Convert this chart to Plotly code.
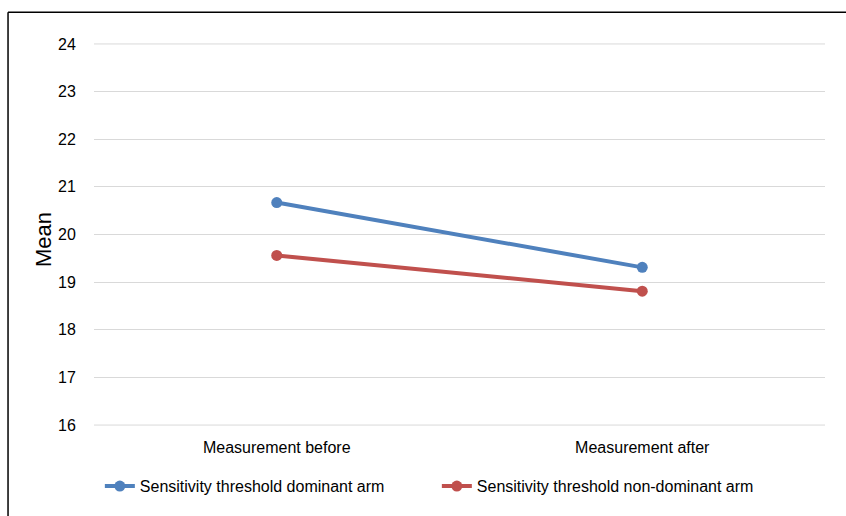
import plotly.graph_objects as go

categories = ["Measurement before", "Measurement after"]
dominant = [20.67, 19.31]
non_dominant = [19.56, 18.81]
series_names = ["Sensitivity threshold dominant arm", "Sensitivity threshold non-dominant arm"]
y_ticks = [16, 17, 18, 19, 20, 21, 22, 23, 24]
y_title = "Mean"

BLUE = "#4F81BD"
RED = "#C0504D"
GRID = "#D9D9D9"
FONT = "Liberation Sans"

fig = go.Figure()
fig.add_trace(go.Scatter(x=categories, y=dominant, name=series_names[0], mode="lines+markers",
                         line=dict(color=BLUE, width=4), marker=dict(color=BLUE, size=11)))
fig.add_trace(go.Scatter(x=categories, y=non_dominant, name=series_names[1], mode="lines+markers",
                         line=dict(color=RED, width=4), marker=dict(color=RED, size=11)))

fig.update_layout(
    width=846, height=516,
    margin=dict(l=94, r=21, t=43, b=90, autoexpand=False),
    paper_bgcolor="white", plot_bgcolor="white",
    font=dict(family=FONT, size=16, color="#000000"),
    showlegend=True,
    legend=dict(orientation="h", x=0.008, xanchor="left", y=-0.157, yanchor="middle",
                entrywidth=292, entrywidthmode="pixels", font=dict(size=16),
                itemclick=False, bgcolor="rgba(0,0,0,0)"),
    xaxis=dict(type="category", range=[-0.5, 1.5], showgrid=False, showline=False,
               zeroline=False, ticks="outside", ticklen=7, tickcolor="rgba(0,0,0,0)",
               tickfont=dict(size=16), automargin=False),
    yaxis=dict(range=[15.98, 24.02], tickvals=y_ticks, showgrid=True, gridcolor=GRID,
               gridwidth=1, zeroline=False, showline=False, ticks="outside", ticklen=14,
               tickcolor="rgba(0,0,0,0)", tickfont=dict(size=16), automargin=False),
)

# y-axis title (placed as annotation to match the original's slight offset)
fig.add_annotation(text=y_title, textangle=-90, xref="paper", yref="paper",
                   x=-0.0698, y=0.488, xanchor="center", yanchor="middle",
                   showarrow=False, font=dict(size=22, family=FONT, color="#000000"))

# end gridlines (plotly drops gridlines at the range edges)
for v in (y_ticks[0], y_ticks[-1]):
    fig.add_shape(type="line", xref="paper", yref="y", x0=0, x1=1, y0=v, y1=v,
                  line=dict(color=GRID, width=1), layer="below")

# chart area border (top and left edges visible in the cropped original)
fig.add_shape(type="line", xref="paper", yref="paper", x0=-0.1176, x1=1.03, y0=1.08, y1=1.08,
              line=dict(color="#000000", width=1.5))
fig.add_shape(type="line", xref="paper", yref="paper", x0=-0.1176, x1=-0.1176, y0=1.08, y1=-0.25,
              line=dict(color="#000000", width=1.5))

fig.write_html("out.html", config={"displayModeBar": False},
               post_script="document.body.style.margin='0';")
